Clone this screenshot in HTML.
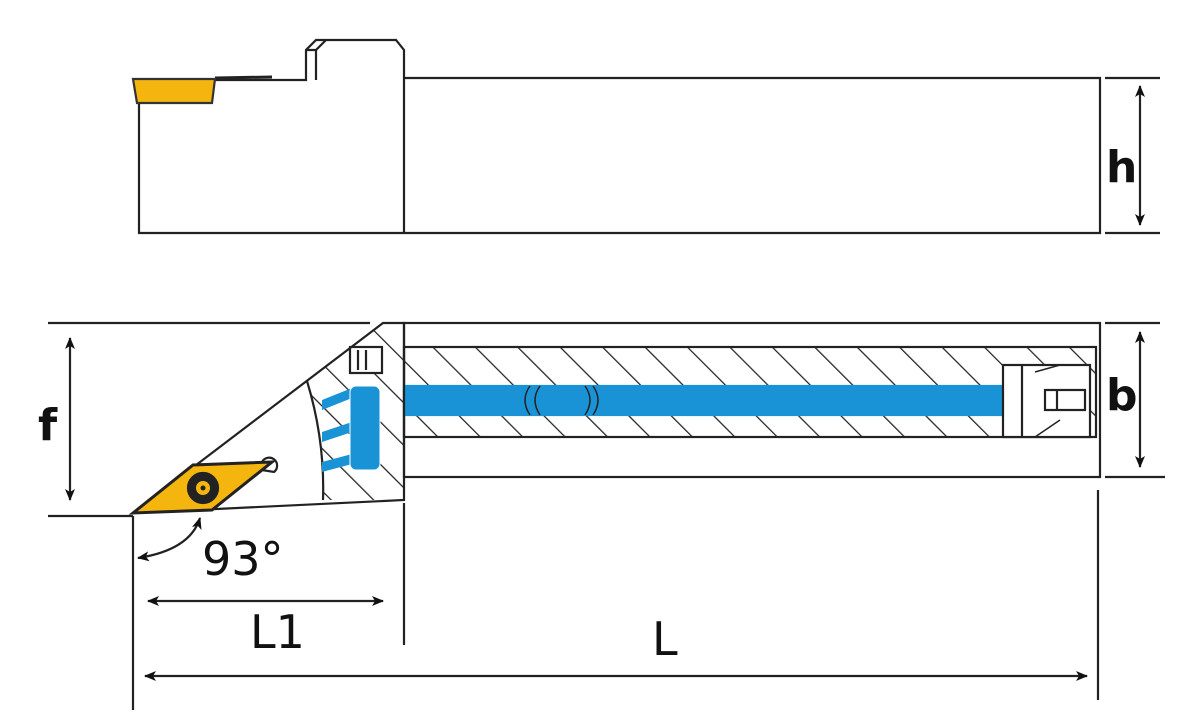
<!DOCTYPE html>
<html><head><style>
html,body{margin:0;padding:0;background:#fff;}
svg{display:block;}
text{font-family:"DejaVu Sans","Liberation Sans",sans-serif;fill:#111;}
</style></head><body>
<svg width="1198" height="714" viewBox="0 0 1198 714" xmlns="http://www.w3.org/2000/svg">
<defs>
<pattern id="hat" patternUnits="userSpaceOnUse" width="30" height="30" patternTransform="rotate(-45)">
<line x1="0" y1="0" x2="0" y2="30" stroke="#222" stroke-width="2.5"/>
</pattern>
<marker id="ar" markerWidth="12" markerHeight="10" refX="11" refY="5" orient="auto" markerUnits="userSpaceOnUse">
<path d="M0,0 L12,5 L0,10 L3,5 Z" fill="#111"/>
</marker>
<marker id="al" markerWidth="12" markerHeight="10" refX="1" refY="5" orient="auto" markerUnits="userSpaceOnUse">
<path d="M12,0 L0,5 L12,10 L9,5 Z" fill="#111"/>
</marker>
<clipPath id="headclip"><path d="M307,381 Q325,440 323,500 L404,500 L404,323 L383,323 Z"/></clipPath>
</defs>
<g stroke="#222" stroke-width="2.2" fill="none">
<polyline points="139,103 139,233 1100,233 1100,78 404,78"/>
<line x1="404" y1="78" x2="404" y2="233"/>
<polyline points="215,80 306,80 306,50 316,40 396,40 404,50 404,78"/>
<polyline points="306,50 316,50 326,40"/>
<line x1="316" y1="50" x2="316" y2="80"/>
<line x1="215" y1="78" x2="272" y2="77" stroke-width="3"/>
<path d="M133,79 L215,79 L212,103 L137,103 Z" fill="#f5b50f" stroke="#333"/>
<line x1="1105" y1="78" x2="1160" y2="78"/>
<line x1="1105" y1="233" x2="1160" y2="233"/>
<line x1="1140" y1="86" x2="1140" y2="225" marker-start="url(#al)" marker-end="url(#ar)"/>

<rect x="404" y="323" width="696" height="154"/>
<rect x="404" y="347" width="692" height="90" fill="url(#hat)"/>
<rect x="404" y="386" width="599" height="29" fill="#1a93d6" stroke="#1a93d6"/>
<path d="M530,386 Q520,400 530,415 M540,386 Q530,400 540,415 M585,386 Q595,400 585,415 M593,386 Q603,400 593,415" stroke="#222" stroke-width="1.5"/>
<rect x="1003" y="365" width="87" height="72" fill="#fff"/>
<line x1="1022" y1="365" x2="1022" y2="437"/>
<rect x="1045" y="390" width="40" height="20" fill="#fff"/>
<line x1="1057" y1="390" x2="1057" y2="410"/>
<line x1="1035" y1="372" x2="1060" y2="365" stroke-width="1.5"/>
<line x1="1035" y1="437" x2="1060" y2="420" stroke-width="1.5"/>

<g clip-path="url(#headclip)">
<rect x="300" y="320" width="110" height="190" fill="url(#hat)" stroke="none"/>
</g>
<path d="M307,381 Q325,440 323,500"/>
<polygon points="322,400 352,388 352,398 322,410" fill="#1a93d6" stroke="none"/>
<polygon points="322,432 352,422 352,432 322,442" fill="#1a93d6" stroke="none"/>
<polygon points="322,462 352,454 352,464 322,472" fill="#1a93d6" stroke="none"/>
<rect x="350" y="386" width="30" height="84" rx="6" fill="#1a93d6" stroke="#fff" stroke-width="1"/>
<rect x="350" y="347" width="32" height="26" fill="#fff"/>
<line x1="358" y1="350" x2="358" y2="370"/><line x1="366" y1="350" x2="366" y2="370"/>
<polyline points="133,513 383,323 404,323 404,500 133,513"/>
<line x1="48" y1="323" x2="370" y2="323"/>
<line x1="48" y1="516" x2="133" y2="516"/>
<line x1="70" y1="338" x2="70" y2="500" marker-start="url(#al)" marker-end="url(#ar)"/>
<path d="M262,462 a8,8 0 1,1 12,10 L262,470" fill="#fff"/>
<polygon points="133,513 193,465 272,462 212,510" fill="#f5b50f" stroke="#222" stroke-width="3"/>
<circle cx="203" cy="488" r="15" fill="#222"/>
<circle cx="203" cy="488" r="7" fill="#f5b50f" stroke="none"/>
<circle cx="203" cy="488" r="2.5" fill="#222" stroke="none"/>

<line x1="1105" y1="323" x2="1160" y2="323"/>
<line x1="1105" y1="477" x2="1165" y2="477"/>
<line x1="1140" y1="332" x2="1140" y2="467" marker-start="url(#al)" marker-end="url(#ar)"/>

<line x1="133" y1="516" x2="133" y2="710"/>
<line x1="404" y1="503" x2="404" y2="645"/>
<line x1="1098" y1="490" x2="1098" y2="700"/>
<line x1="148" y1="601" x2="383" y2="601" marker-start="url(#al)" marker-end="url(#ar)"/>
<line x1="145" y1="676" x2="1087" y2="676" marker-start="url(#al)" marker-end="url(#ar)"/>
<path d="M138,558 Q190,550 200,518" marker-start="url(#al)" marker-end="url(#ar)"/>
</g>
<text x="1106" y="182" font-size="44" font-weight="bold">h</text>
<text x="1106" y="410" font-size="44" font-weight="bold">b</text>
<text x="38" y="440" font-size="44" font-weight="bold">f</text>
<text x="202" y="575" font-size="46">93°</text>
<text x="250" y="648" font-size="46">L1</text>
<text x="652" y="655" font-size="46">L</text>
</svg>
</body></html>
